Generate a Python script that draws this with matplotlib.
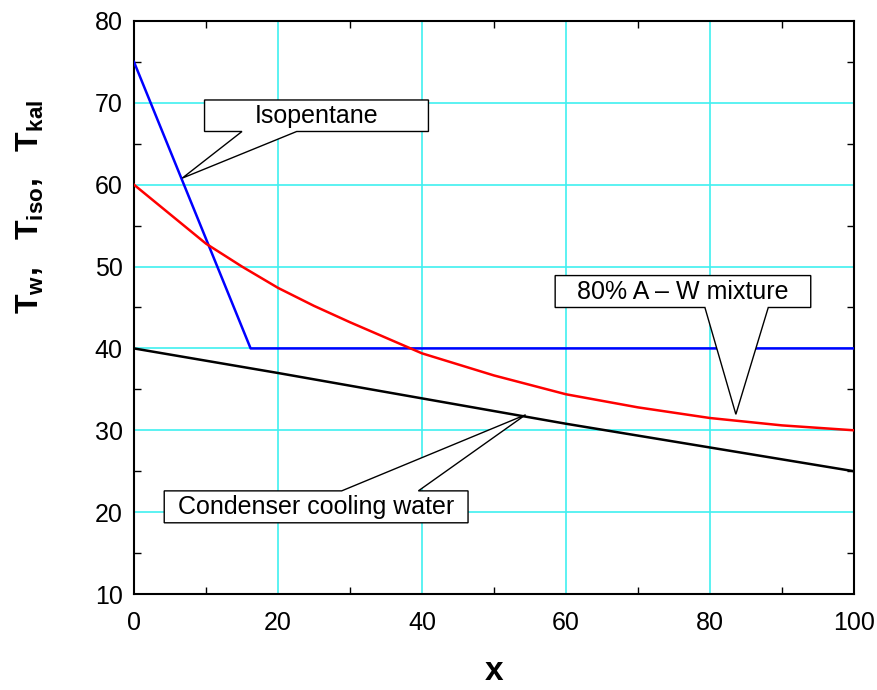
import matplotlib
matplotlib.use('Agg')
import matplotlib.pyplot as plt
from matplotlib.patches import Polygon
from matplotlib.ticker import MultipleLocator

plt.rcParams['font.family'] = ['Liberation Sans', 'DejaVu Sans']
plt.rcParams['mathtext.fontset'] = 'custom'
plt.rcParams['mathtext.rm'] = 'Liberation Sans'
plt.rcParams['mathtext.bf'] = 'Liberation Sans:bold'

# data
x_iso = [0, 16.2, 100]
t_iso = [75, 40, 40]

x_kal = [0, 5, 10, 15, 20, 25, 30, 40, 50, 60, 70, 80, 90, 100]
t_kal = [60, 56.4, 52.8, 50.0, 47.4, 45.2, 43.2, 39.4, 36.7, 34.4, 32.8, 31.5, 30.6, 30.0]

x_w = [0, 20, 40, 60, 80, 100]
t_w = [40, 37.0, 33.9, 30.8, 27.9, 25.0]

fig = plt.figure(figsize=(8.78, 6.9), dpi=100)
ax = fig.add_axes([0.1526, 0.1391, 0.8200, 0.8305])

ax.plot(x_iso, t_iso, color='#0000ff', lw=1.8, zorder=3)
ax.plot(x_kal, t_kal, color='#ff0000', lw=1.8, zorder=3)
ax.plot(x_w, t_w, color='black', lw=1.8, zorder=3)

ax.set_xlim(0, 100)
ax.set_ylim(10, 80)
ax.xaxis.set_major_locator(MultipleLocator(20))
ax.xaxis.set_minor_locator(MultipleLocator(10))
ax.yaxis.set_major_locator(MultipleLocator(10))
ax.yaxis.set_minor_locator(MultipleLocator(5))
ax.grid(True, which='major', color='#40f0f0', lw=1.2, zorder=1)
ax.tick_params(which='both', direction='in', top=True, right=True,
               labelsize=18, color='black')
ax.tick_params(which='major', length=0)
ax.tick_params(axis='x', which='major', pad=12)
ax.tick_params(axis='y', which='major', pad=8)
ax.tick_params(which='minor', length=5, width=1)
for s in ax.spines.values():
    s.set_linewidth(1.5)


def callout(text, box, notch, tip, top_side=False):
    x0, x1, yb, yt = box
    n0, n1 = notch
    if top_side:
        pts = [(x0, yb), (x1, yb), (x1, yt), (n1, yt), tip, (n0, yt), (x0, yt)]
    else:
        pts = [(x0, yt), (x1, yt), (x1, yb), (n1, yb), tip, (n0, yb), (x0, yb)]
    ax.add_patch(Polygon(pts, closed=True, facecolor='white',
                         edgecolor='black', lw=1, zorder=5))
    ax.text((x0 + x1) / 2, (yb + yt) / 2, text, ha='center', va='center',
            fontsize=18, zorder=6)


callout('Isopentane', (9.8, 40.9, 66.5, 70.35), (15.0, 22.6), (6.7, 60.8))
callout('80% A \u2013 W mixture', (58.5, 94.0, 45.0, 48.9), (79.3, 88.1), (83.6, 31.95))
callout('Condenser cooling water', (4.2, 46.4, 18.7, 22.6), (28.85, 39.5), (54.4, 31.9),
        top_side=True)

fig.text(0.5626, 0.005, 'x', ha='center', va='bottom', fontsize=24, fontweight='bold')
fig.text(0.035, 0.70, r'$\mathbf{T_{w},\ \ T_{iso},\ \ T_{kal}}$', rotation=90,
         ha='center', va='center', fontsize=23)

fig.savefig('out.png', dpi=100)
